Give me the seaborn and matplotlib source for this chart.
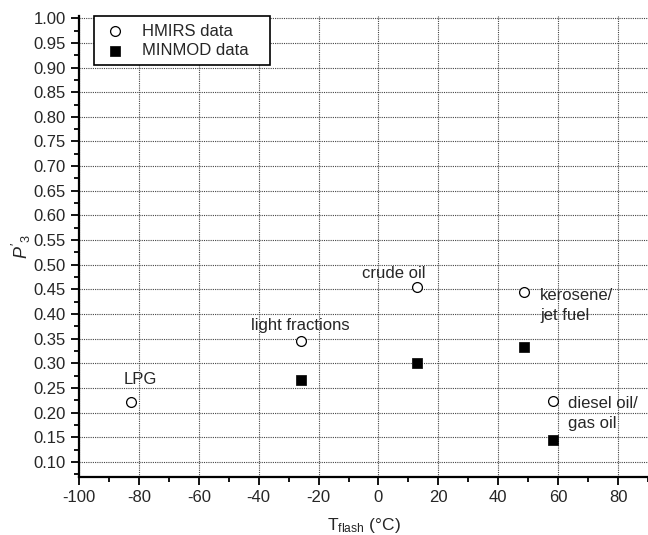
import matplotlib
matplotlib.use("Agg")
import matplotlib.pyplot as plt
from matplotlib.ticker import MultipleLocator
import seaborn as sns
import pandas as pd

# Data
fuels = ["LPG", "light fractions", "crude oil", "kerosene/jet fuel", "diesel oil/gas oil"]
t_flash = [-82.5, -26.0, 12.7, 48.7, 58.3]
hmirs = [0.221, 0.345, 0.454, 0.444, 0.224]
minmod_x = [-26.0, 12.7, 48.7, 58.3]
minmod = [0.266, 0.300, 0.334, 0.144]
x_ticks = [-100, -80, -60, -40, -20, 0, 20, 40, 60, 80]
y_ticks = [0.10, 0.15, 0.20, 0.25, 0.30, 0.35, 0.40, 0.45, 0.50, 0.55,
           0.60, 0.65, 0.70, 0.75, 0.80, 0.85, 0.90, 0.95, 1.00]
labels = ["LPG", "light fractions", "crude oil", "kerosene/\njet fuel", "diesel oil/\ngas oil"]
label_x = [-79.6, -26.0, 5.0, 54.0, 63.3]
label_y = [0.268, 0.377, 0.482, 0.417, 0.198]
label_ha = ["center", "center", "center", "left", "left"]

sns.set_style("white")
plt.rcParams["font.family"] = ["Liberation Sans", "DejaVu Sans"]
plt.rcParams["mathtext.fontset"] = "custom"
plt.rcParams["mathtext.rm"] = "Liberation Sans"
plt.rcParams["mathtext.it"] = "Liberation Sans:italic"
plt.rcParams["mathtext.sf"] = "Liberation Sans"

fig = plt.figure(figsize=(6.48, 5.35), dpi=100)
ax = fig.add_axes([79 / 648, 58.3 / 535, 569 / 648, 460.9 / 535])

df_h = pd.DataFrame({"x": t_flash, "y": hmirs})
df_m = pd.DataFrame({"x": minmod_x, "y": minmod})

sns.scatterplot(data=df_h, x="x", y="y", ax=ax, marker="o", s=50,
                facecolor="white", edgecolor="black", linewidth=0.9,
                label="HMIRS data", zorder=3)
sns.scatterplot(data=df_m, x="x", y="y", ax=ax, marker="s", s=45,
                color="black", edgecolor="black", linewidth=0.5,
                label="MINMOD data", zorder=3)

for t, lx, ly, ha in zip(labels, label_x, label_y, label_ha):
    ax.text(lx, ly, t, ha=ha, va="center", fontsize=12, linespacing=1.45)

ax.set_xlim(-100, 90)
ax.set_ylim(0.07, 1.005)
ax.set_xticks(x_ticks)
ax.set_xticklabels([str(v) for v in x_ticks])
ax.set_yticks(y_ticks)
ax.set_yticklabels([f"{v:.2f}" for v in y_ticks])
ax.xaxis.set_minor_locator(MultipleLocator(10))
ax.yaxis.set_minor_locator(MultipleLocator(0.025))
ax.tick_params(which="major", direction="out", length=6, width=1.3,
               labelsize=12, bottom=True, left=True, color="black")
ax.tick_params(which="minor", direction="out", length=3.5, width=1.3,
               bottom=True, left=True, color="black")
ax.grid(True, which="major", linestyle=(0, (1, 1)), color="#444444", linewidth=0.8)
ax.set_axisbelow(True)

for s in ["top", "right"]:
    ax.spines[s].set_visible(False)
for s in ["left", "bottom"]:
    ax.spines[s].set_linewidth(1.6)
    ax.spines[s].set_color("black")

ax.set_xlabel(r"T$_{\mathrm{flash}}$ (°C)", fontsize=12.5, labelpad=8)
ax.set_ylabel(r"$P'_{3}$", fontsize=13, labelpad=0)

leg = ax.legend(loc="upper left", bbox_to_anchor=(0.0264, 0.0, 0.309, 0.999),
                mode="expand", fontsize=12,
                frameon=True, fancybox=False, edgecolor="black",
                borderpad=0.45, handletextpad=0.8, labelspacing=0.25,
                handlelength=1.6, borderaxespad=0.0)
leg.get_frame().set_linewidth(1.2)
leg.get_frame().set_alpha(1)

fig.savefig("out.png", dpi=100)
